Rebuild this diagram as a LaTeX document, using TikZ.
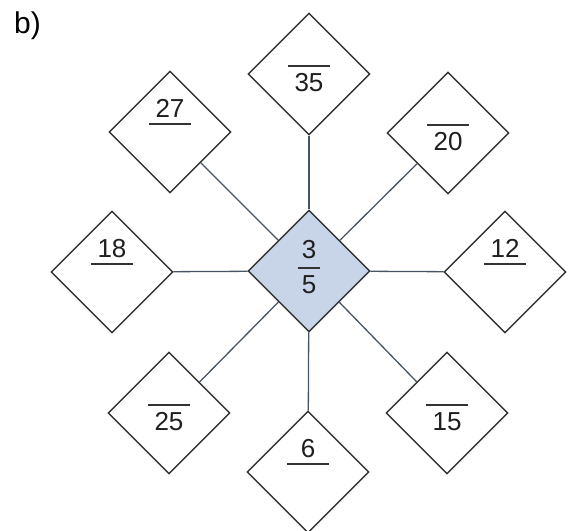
\documentclass[tikz,border=0pt]{standalone}
\usepackage{fontspec}
\setmainfont{Liberation Sans}
\usetikzlibrary{shapes.geometric}
\definecolor{edgecol}{HTML}{333333}
\definecolor{spokecol}{HTML}{465464}
\definecolor{centerfill}{HTML}{C8D4E8}
\begin{document}
\begin{tikzpicture}[x=1pt,y=1pt,
  dbox/.style={draw=edgecol, line width=1.4pt, diamond, minimum width=122pt, minimum height=122pt, inner sep=0pt, fill=white},
  spoke/.style={draw=spokecol, line width=1.3pt},
  numtxt/.style={font=\fontsize{26}{26}\selectfont, text=black!88, anchor=base, inner sep=0pt},
  bar/.style={draw=black!80, line width=1.1pt}]
\useasboundingbox (0,0) rectangle (570,530);
\node[font=\fontsize{30}{30}\selectfont, anchor=base west, inner sep=0pt] (lbl) at (14,496) {b)};
% diamonds
\node[dbox, fill=centerfill] (c) at (309,259) {};
\node[dbox] (n) at (309,456) {};
\node[dbox] (s) at (308,58) {};
\node[dbox] (w) at (112,258) {};
\node[dbox] (e) at (505,258) {};
\node[dbox] (nw) at (170,398) {};
\node[dbox] (ne) at (448,397) {};
\node[dbox] (sw) at (169,117) {};
\node[dbox] (se) at (447,117) {};
% spokes
\foreach \d in {n,s,w,e,nw,ne,sw,se}{\draw[spoke] (c) -- (\d);}
% centre fraction
\node[numtxt] (c3) at ([yshift=12pt]c.center) {3};
\node[numtxt] (c5) at ([yshift=-23pt]c.center) {5};
\draw[bar] ([xshift=-11pt,yshift=3pt]c.center) -- ([xshift=11pt,yshift=3pt]c.center);
% numerator-type labels
\foreach \d/\t in {nw/27, w/18, e/12, s/6}{
  \node[numtxt] (t\d) at ([yshift=14pt]\d.center) {\t};
  \draw[bar] ([xshift=-21pt,yshift=8pt]\d.center) -- ([xshift=21pt,yshift=8pt]\d.center);
}
% denominator-type labels
\foreach \d/\t in {n/35, ne/20, sw/25, se/15}{
  \node[numtxt] (t\d) at ([yshift=-18pt]\d.center) {\t};
  \draw[bar] ([xshift=-21pt,yshift=8pt]\d.center) -- ([xshift=21pt,yshift=8pt]\d.center);
}
\end{tikzpicture}
\end{document}
